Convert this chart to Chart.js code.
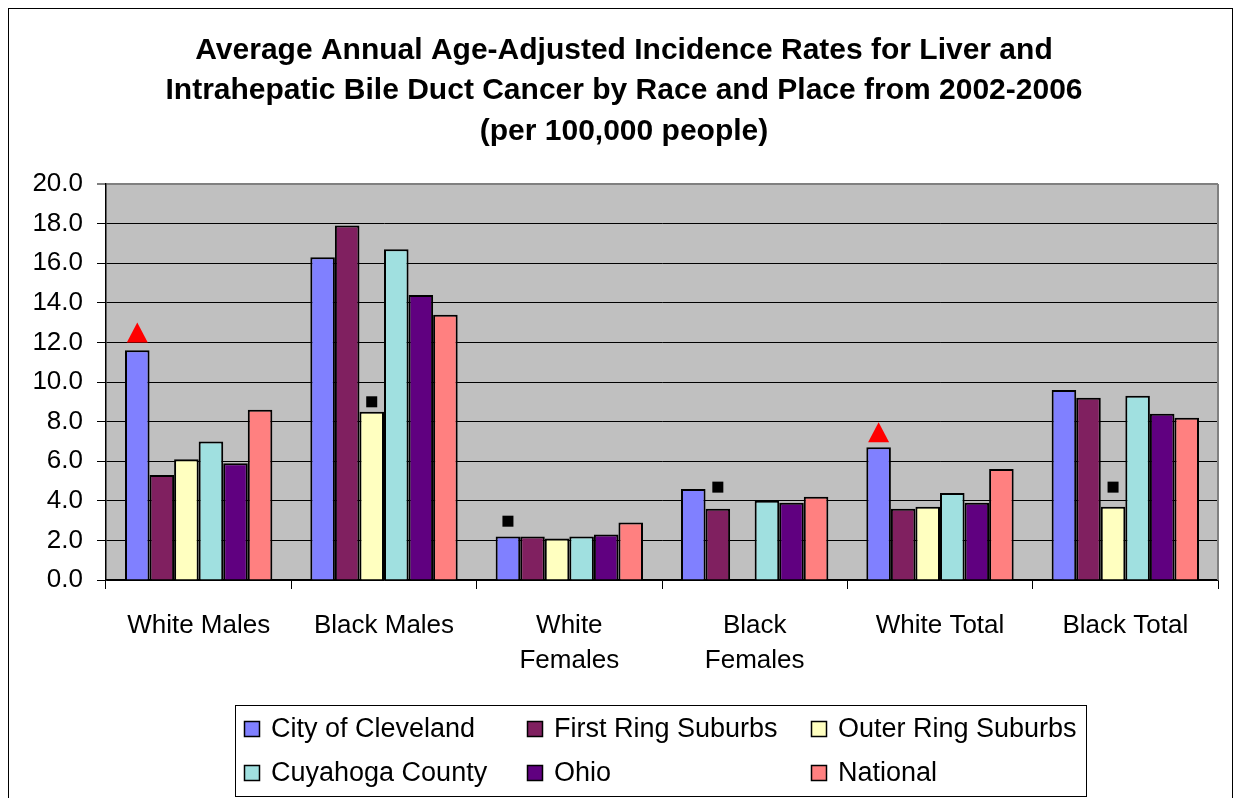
<!DOCTYPE html>
<html><head><meta charset="utf-8">
<script src="https://cdn.jsdelivr.net/npm/chart.js@4.4.0/dist/chart.umd.min.js"></script>
<style>html,body{margin:0;padding:0;background:#fff}#wrap{width:1236px;height:798px;position:relative}</style>
</head><body><div id="wrap"><canvas id="c" width="1236" height="798"></canvas></div>
<script>
// ---- data ----
const categories = [['White Males'], ['Black Males'], ['White', 'Females'], ['Black', 'Females'], ['White Total'], ['Black Total']];
const seriesNames = ['City of Cleveland', 'First Ring Suburbs', 'Outer Ring Suburbs', 'Cuyahoga County', 'Ohio', 'National'];
const cleveland = [11.6, 16.3, 2.2, 4.6, 6.7, 9.6];
const firstRing = [5.3, 17.9, 2.2, 3.6, 3.6, 9.2];
const outerRing = [6.1, 8.5, 2.1, null, 3.7, 3.7];
const cuyahoga = [7.0, 16.7, 2.2, 4.0, 4.4, 9.3];
const ohio = [5.9, 14.4, 2.3, 3.9, 3.9, 8.4];
const national = [8.6, 13.4, 2.9, 4.2, 5.6, 8.2];
const yTickValues = [0, 2, 4, 6, 8, 10, 12, 14, 16, 18, 20];
// significance markers: category index, series index (bar it sits over), value, shape
const markerCats = [0, 1, 2, 3, 4, 5];
const markerSeries = [0, 2, 0, 1, 0, 2];
const markerValues = [12.5, 9.0, 2.97, 4.69, 7.46, 4.69];
const markerShapes = ['triangle', 'square', 'square', 'square', 'triangle', 'square'];

// ---- styles ----
const seriesColors = ['#8080FF', '#802060', '#FFFFC0', '#A0E0E0', '#600080', '#FF8080'];
const FONT = "'Liberation Sans', Arial, sans-serif";
const seriesValues = [cleveland, firstRing, outerRing, cuyahoga, ohio, national];

const datasets = seriesValues.map((vals, i) => ({
  label: seriesNames[i],
  data: vals,
  backgroundColor: seriesColors[i],
  borderColor: '#000',
  borderWidth: 2,
  categoryPercentage: 0.795,
  barPercentage: 1.0
}));

const framePlugin = {
  id: 'frame',
  beforeDraw(chart) {
    const {ctx, chartArea: a} = chart;
    ctx.save();
    ctx.fillStyle = '#fff';
    ctx.fillRect(0, 0, chart.width, chart.height);
    ctx.strokeStyle = '#000';
    ctx.lineWidth = 1;
    ctx.strokeRect(8.5, 8.5, 1224, 800);
    ctx.fillStyle = '#C0C0C0';
    ctx.fillRect(a.left, a.top, a.right - a.left, a.bottom - a.top);
    ctx.restore();
  },
  afterDatasetsDraw(chart) {
    const {ctx, chartArea: a, scales} = chart;
    ctx.save();
    ctx.strokeStyle = '#808080';
    ctx.lineWidth = 2;
    ctx.beginPath();
    ctx.moveTo(a.right, a.top);
    ctx.lineTo(a.right, a.bottom);
    ctx.stroke();
    markerCats.forEach((c, k) => {
      const bar = chart.getDatasetMeta(markerSeries[k]).data[c];
      const x = bar.x;
      const y = scales.y.getPixelForValue(markerValues[k]);
      if (markerShapes[k] === 'triangle') {
        ctx.fillStyle = '#FF0000';
        ctx.beginPath();
        ctx.moveTo(x, y - 10);
        ctx.lineTo(x + 10.5, y + 10);
        ctx.lineTo(x - 10.5, y + 10);
        ctx.closePath();
        ctx.fill();
      } else {
        ctx.fillStyle = '#000';
        ctx.fillRect(x - 5.5, y - 5.5, 11, 11);
      }
    });
    ctx.restore();
  },
  afterDraw(chart) {
    const {ctx} = chart;
    ctx.save();
    ctx.strokeStyle = '#000';
    ctx.lineWidth = 1;
    ctx.strokeRect(235.5, 705.5, 851, 91);
    const colX = [244, 527, 811];
    const rowY = [729, 773];
    ctx.font = '27px ' + FONT;
    ctx.textBaseline = 'middle';
    ctx.textAlign = 'left';
    chart.data.datasets.forEach((ds, i) => {
      const x = colX[i % 3], y = rowY[Math.floor(i / 3)];
      ctx.fillStyle = ds.backgroundColor;
      ctx.fillRect(x, y - 8, 16, 16);
      ctx.strokeStyle = '#000';
      ctx.lineWidth = 1.5;
      ctx.strokeRect(x + 0.5, y - 7.5, 15, 15);
      ctx.fillStyle = '#000';
      ctx.fillText(ds.label, x + 27, y + 1);
    });
    ctx.restore();
  }
};

new Chart(document.getElementById('c'), {
  type: 'bar',
  data: { labels: categories, datasets },
  options: {
    responsive: false,
    animation: false,
    devicePixelRatio: 1,
    layout: { padding: { left: 30, right: 18, top: 10, bottom: 104 } },
    plugins: {
      legend: { display: false },
      tooltip: { enabled: false },
      title: {
        display: true,
        text: ['Average Annual Age-Adjusted Incidence Rates for Liver and',
               'Intrahepatic Bile Duct Cancer by Race and Place from 2002-2006',
               '(per 100,000 people)'],
        color: '#000',
        font: { family: FONT, size: 30, weight: 'bold', lineHeight: 1.35 },
        padding: { top: 20, bottom: 32.5 }
      }
    },
    scales: {
      x: {
        offset: true,
        grid: { display: true, drawOnChartArea: false, drawTicks: true, tickLength: 9, color: '#000', offset: true },
        border: { display: true, color: '#000', width: 1.5 },
        ticks: { color: '#000', font: { family: FONT, size: 26, lineHeight: 1.33 }, padding: 20, maxRotation: 0, autoSkip: false },
        afterFit(s) { s.height = 114; }
      },
      y: {
        min: 0, max: 20,
        afterBuildTicks(s) { s.ticks = yTickValues.map(v => ({ value: v })); },
        grid: {
          drawTicks: true, tickLength: 9,
          color: (c) => (c.tick && c.tick.value === 20) ? '#808080' : '#000',
          lineWidth: (c) => (c.tick && c.tick.value === 20) ? 2 : 1
        },
        border: { display: true, color: '#000', width: 1.5 },
        ticks: { color: '#000', font: { family: FONT, size: 26 }, padding: 14, callback: (v) => Number(v).toFixed(1) },
        afterFit(s) { s.width = 76; }
      }
    }
  },
  plugins: [framePlugin]
});
</script>
</body></html>
